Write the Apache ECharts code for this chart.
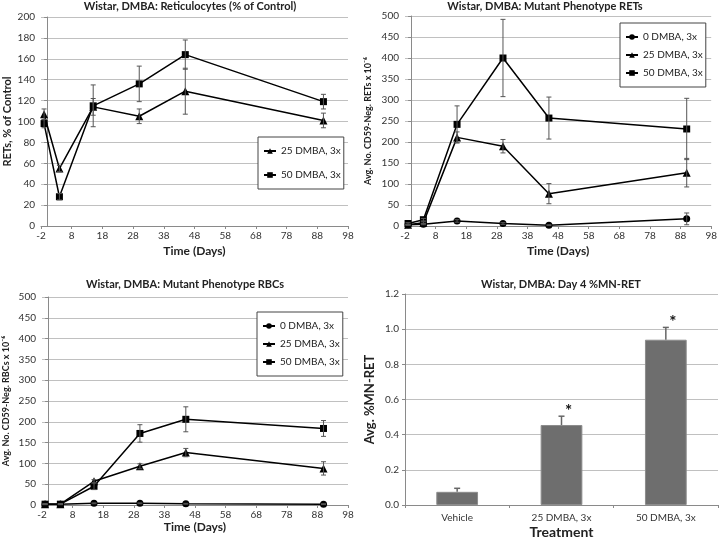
<!DOCTYPE html>
<html>
<head>
<meta charset="utf-8">
<script src="https://cdn.jsdelivr.net/npm/echarts@6/dist/echarts.min.js"></script>
<style>
html,body{margin:0;padding:0;background:#fff;}
#c{width:720px;height:541px;}
</style>
</head>
<body>
<div id="c"></div>
<script>
// ---- data ----
var days = [-1, 4, 15, 30, 45, 90];
var xTicks = [-2, 8, 18, 28, 38, 48, 58, 68, 78, 88, 98];

// Panel 1: Reticulocytes (% of Control)
var ret25 = [107, 55, 114, 105, 129, 101];
var ret25Err = [5, 3, 8, 7, 22, 7];
var ret50 = [98, 28, 115, 136, 164, 119];
var ret50Err = [4, 3, 20, 17, 14, 7];

// Panel 2: Mutant phenotype RETs
var mr0 = [3, 4, 12, 6, 2, 17];
var mr0Err = [1, 1, 3, 2, 1, 14];
var mr25 = [3, 8, 211, 190, 77, 127];
var mr25Err = [1, 2, 13, 16, 24, 34];
var mr50 = [6, 15, 242, 400, 257, 231];
var mr50Err = [2, 3, 44, 92, 50, 73];

// Panel 3: Mutant phenotype RBCs
var mb0 = [2, 2, 4, 4, 3, 2];
var mb0Err = [1, 1, 1, 1, 1, 1];
var mb25 = [2, 2, 57, 93, 126, 88];
var mb25Err = [1, 1, 4, 6, 10, 16];
var mb50 = [2, 2, 45, 172, 206, 184];
var mb50Err = [1, 1, 8, 21, 30, 19];

// Panel 4: Day 4 %MN-RET
var treatments = ['Vehicle', '25 DMBA, 3x', '50 DMBA, 3x'];
var mnRet = [0.075, 0.455, 0.94];
var mnRetErr = [0.02, 0.05, 0.07];
var sig = ['', '*', '*'];

var names = {0: '0 DMBA, 3x', 25: '25 DMBA, 3x', 50: '50 DMBA, 3x'};
var symbols = {0: 'circle', 25: 'triangle', 50: 'rect'};
var symSizes = {0: 7, 25: 8, 50: 7};

var FONT = 'Lato, "Open Sans", sans-serif';
var GRID = '#c0c0c0';
var AX = '#8a8a8a';
var LBL = '#333';

function pairs(vals) { return days.map(function (d, i) { return [d, vals[i]]; }); }
function errData(vals, errs) { return days.map(function (d, i) { return [d, vals[i] - errs[i], vals[i] + errs[i]]; }); }

function errRender(params, api) {
  var x = api.value(0);
  var lo = api.coord([x, api.value(1)]);
  var hi = api.coord([x, api.value(2)]);
  var w = 2.5;
  var st = {stroke: '#555', lineWidth: 1};
  return {type: 'group', children: [
    {type: 'line', shape: {x1: hi[0], y1: hi[1], x2: lo[0], y2: lo[1]}, style: st},
    {type: 'line', shape: {x1: hi[0] - w, y1: hi[1], x2: hi[0] + w, y2: hi[1]}, style: st},
    {type: 'line', shape: {x1: lo[0] - w, y1: lo[1], x2: lo[0] + w, y2: lo[1]}, style: st}
  ]};
}

function lineSeries(dose, vals, gi) {
  return {
    type: 'line', name: names[dose], data: pairs(vals), xAxisIndex: gi, yAxisIndex: gi,
    symbol: symbols[dose], symbolSize: symSizes[dose], showSymbol: true,
    lineStyle: {color: '#000', width: 1.5}, itemStyle: {color: '#000'}, z: 3
  };
}
function errSeries(vals, errs, gi) {
  return {type: 'custom', name: 'err', data: errData(vals, errs), xAxisIndex: gi, yAxisIndex: gi,
    renderItem: errRender, z: 4, silent: true};
}

function timeXAxis(gi, gap) {
  return {
    type: 'value', gridIndex: gi, min: -2, max: 98,
    name: 'Time (Days)', nameLocation: 'middle', nameGap: gap,
    nameTextStyle: {fontFamily: FONT, fontWeight: 'bold', fontSize: 12, color: '#222'},
    axisLine: {show: true, onZero: false, lineStyle: {color: AX}},
    axisTick: {show: true, length: 3, lineStyle: {color: AX}, customValues: xTicks},
    axisLabel: {fontFamily: FONT, fontSize: 10, color: LBL, margin: 5, customValues: xTicks},
    splitLine: {show: false}
  };
}
function valYAxis(gi, max, interval, name, gap, nameSize, fmt) {
  return {
    type: 'value', gridIndex: gi, min: 0, max: max, interval: interval,
    name: name, nameLocation: 'middle', nameGap: gap,
    nameTextStyle: {fontFamily: FONT, fontWeight: 'bold', fontSize: nameSize, color: '#222'},
    axisLine: {show: true, lineStyle: {color: AX}},
    axisTick: {show: true, length: 3, lineStyle: {color: AX}},
    axisLabel: {fontFamily: FONT, fontSize: 10, color: LBL, margin: 6, formatter: fmt},
    splitLine: {show: true, lineStyle: {color: GRID, width: 1}}
  };
}
function legend(items, left, top, gap) {
  return {
    data: items, orient: 'vertical', left: left, top: top,
    itemWidth: 12, itemHeight: 7, itemGap: gap,
    padding: [9, 3, 9, 5], borderColor: '#444', borderWidth: 1, backgroundColor: '#fff',
    textStyle: {fontFamily: FONT, fontSize: 10, color: '#222'},
    selectedMode: false
  };
}
function title(text, cx, top) {
  return {text: text, left: cx, top: top, textAlign: 'center', padding: 0,
    textStyle: {fontFamily: FONT, fontWeight: 'bold', fontSize: 11, color: '#222'}};
}

var chart = echarts.init(document.getElementById('c'), null, {renderer: 'canvas'});
var option = {
  animation: false,
  backgroundColor: '#fff',
  title: [
    title('Wistar, DMBA: Reticulocytes (% of Control)', 190, 1),
    title('Wistar, DMBA: Mutant Phenotype RETs', 545, 1),
    title('Wistar, DMBA: Mutant Phenotype RBCs', 185, 279),
    title('Wistar, DMBA: Day 4 %MN-RET', 561, 279)
  ],
  legend: [
    legend([names[25], names[50]], 258, 137, 14),
    legend([names[0], names[25], names[50]], 620, 23, 8),
    legend([names[0], names[25], names[50]], 257, 312, 8)
  ],
  grid: [
    {left: 41, right: 372, top: 17, bottom: 315},
    {left: 405, right: 6, top: 16, bottom: 315},
    {left: 42, right: 372, top: 297, bottom: 36},
    {left: 405, right: 2, top: 294, bottom: 36}
  ],
  xAxis: [
    timeXAxis(0, 19),
    timeXAxis(1, 19),
    timeXAxis(2, 16),
    {
      type: 'category', gridIndex: 3, data: treatments,
      name: 'Treatment', nameLocation: 'middle', nameGap: 20,
      nameTextStyle: {fontFamily: FONT, fontWeight: 'bold', fontSize: 14, color: '#222'},
      axisLine: {show: true, lineStyle: {color: AX}},
      axisTick: {show: true, length: 3, lineStyle: {color: AX}},
      axisLabel: {fontFamily: FONT, fontSize: 10, color: LBL, margin: 8},
      splitLine: {show: false}
    }
  ],
  yAxis: [
    valYAxis(0, 200, 20, 'RETs, % of Control', 28, 11),
    valYAxis(1, 500, 50, 'Avg. No. CD59-Neg. RETs x 10\u207B\u2076', 32, 9),
    valYAxis(2, 500, 50, 'Avg. No. CD59-Neg. RBCs x 10\u207B\u2076', 31, 9),
    valYAxis(3, 1.2, 0.2, 'Avg. %MN-RET', 29, 13, function (v) { return v.toFixed(1); })
  ],
  series: [
    lineSeries(25, ret25, 0), errSeries(ret25, ret25Err, 0),
    lineSeries(50, ret50, 0), errSeries(ret50, ret50Err, 0),

    lineSeries(0, mr0, 1), errSeries(mr0, mr0Err, 1),
    lineSeries(25, mr25, 1), errSeries(mr25, mr25Err, 1),
    lineSeries(50, mr50, 1), errSeries(mr50, mr50Err, 1),

    lineSeries(0, mb0, 2), errSeries(mb0, mb0Err, 2),
    lineSeries(25, mb25, 2), errSeries(mb25, mb25Err, 2),
    lineSeries(50, mb50, 2), errSeries(mb50, mb50Err, 2),

    {
      type: 'bar', name: 'mnret', data: mnRet, xAxisIndex: 3, yAxisIndex: 3,
      barWidth: '40%',
      itemStyle: {color: '#6e6e6e', borderColor: '#8c8c8c', borderWidth: 1}
    },
    {
      type: 'custom', name: 'mnerr', xAxisIndex: 3, yAxisIndex: 3, z: 4, silent: true,
      data: mnRet.map(function (v, i) { return [i, v, v + mnRetErr[i]]; }),
      renderItem: function (params, api) {
        var i = api.value(0);
        var lo = api.coord([i, api.value(1)]);
        var hi = api.coord([i, api.value(2)]);
        var st = {stroke: '#666', lineWidth: 1.5};
        var kids = [
          {type: 'line', shape: {x1: hi[0], y1: hi[1], x2: lo[0], y2: lo[1]}, style: st},
          {type: 'line', shape: {x1: hi[0] - 3, y1: hi[1], x2: hi[0] + 3, y2: hi[1]}, style: st}
        ];
        if (sig[i]) {
          kids.push({type: 'text', style: {text: sig[i], x: hi[0] + 7, y: hi[1] + 4,
            align: 'center', verticalAlign: 'bottom', fontSize: 17, fontWeight: 'bold', fontFamily: FONT, fill: '#111'}});
        }
        return {type: 'group', children: kids};
      }
    }
  ]
};
chart.setOption(option);
</script>
</body>
</html>
